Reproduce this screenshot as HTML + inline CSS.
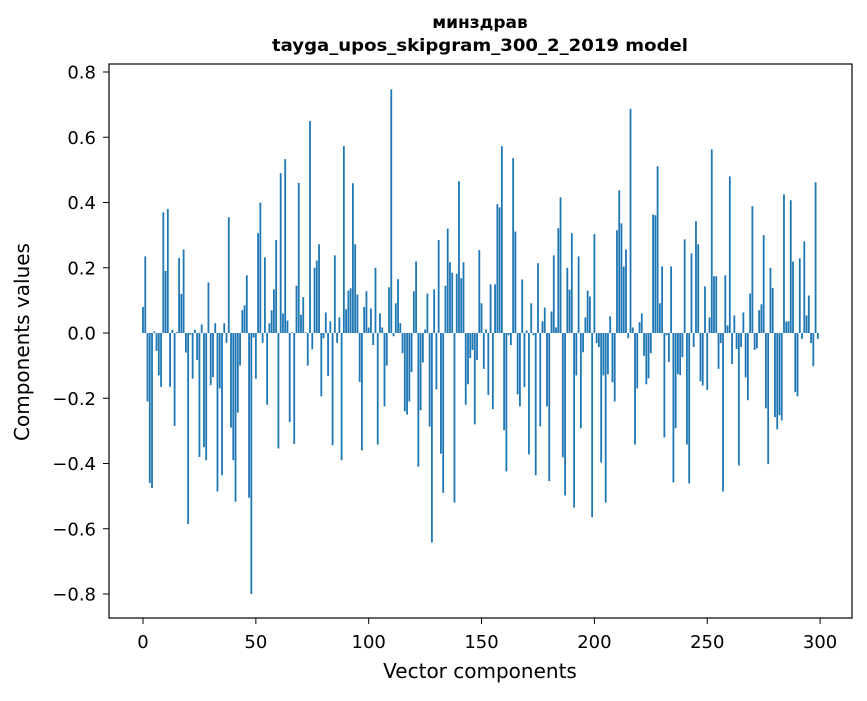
<!DOCTYPE html>
<html><head><meta charset="utf-8"><style>
body{margin:0;background:#fff}
svg text{font-family:"DejaVu Sans","Liberation Sans",sans-serif;fill:#000}
</style></head><body>
<svg id="chart" width="867" height="696" xmlns="http://www.w3.org/2000/svg">
<rect width="867" height="696" fill="#fff"/>
<text x="480" y="28" text-anchor="middle" font-size="17" font-weight="bold">минздрав</text>
<text x="480" y="51" text-anchor="middle" font-size="17" font-weight="bold" textLength="416" lengthAdjust="spacingAndGlyphs">tayga_upos_skipgram_300_2_2019 model</text>
<g id="bars"></g>
<g id="xticks"></g>
<g id="yticks"></g>
<rect x="109" y="64" width="743" height="554" fill="none" stroke="#000" stroke-width="1.2"/>
<text x="480" y="678" text-anchor="middle" font-size="20">Vector components</text>
<text x="0" y="0" transform="translate(29,342) rotate(-90)" text-anchor="middle" font-size="20">Components values</text>
</svg>
<script>
const values = [
0.08,0.235,-0.21,-0.46,-0.475,0.005,-0.055,-0.13,-0.165,0.37,
0.19,0.38,-0.165,0.01,-0.285,0.003,0.23,0.12,0.256,-0.06,
-0.585,-0.005,-0.14,0.01,-0.083,-0.38,0.026,-0.35,-0.39,0.155,
-0.16,-0.135,0.03,-0.486,-0.17,-0.436,0.03,-0.03,0.355,-0.29,
-0.39,-0.517,-0.244,-0.1,0.07,0.085,0.177,-0.505,-0.8,-0.014,
-0.14,0.306,0.4,-0.03,0.232,-0.22,0.03,0.07,0.134,0.285,
-0.354,0.49,0.06,0.533,0.038,-0.273,0.002,-0.34,0.145,0.46,
0.056,0.11,0.002,-0.1,0.65,-0.05,0.2,0.222,0.272,-0.194,
-0.016,0.063,-0.132,0.036,-0.344,0.238,-0.03,0.048,-0.39,0.573,
0.073,0.13,0.137,0.459,0.272,0.118,-0.15,-0.36,0.08,0.128,
0.017,0.075,-0.037,0.2,-0.342,0.06,0.017,-0.225,-0.1,0.14,
0.747,-0.01,0.091,0.165,0.03,-0.062,-0.24,-0.25,-0.21,-0.12,
0.128,0.219,-0.41,-0.237,-0.09,0.011,0.121,-0.287,-0.642,0.134,
-0.173,0.285,-0.37,-0.49,0.145,0.32,0.217,0.185,-0.52,0.182,
0.465,0.168,0.217,-0.22,-0.157,-0.077,-0.052,-0.28,-0.083,0.254,
0.091,-0.11,0.011,-0.19,0.149,-0.233,0.149,0.395,0.385,0.573,
-0.298,-0.424,-0.007,-0.037,0.536,0.311,-0.188,-0.225,0.164,-0.166,
0.008,-0.372,0.091,-0.007,-0.436,0.214,-0.286,0.036,0.078,-0.225,
-0.454,0.066,0.238,0.017,0.321,0.416,-0.381,-0.498,0.2,0.133,
0.306,-0.535,-0.13,0.235,-0.292,-0.059,0.048,0.13,0.112,-0.565,
0.303,-0.031,-0.043,-0.397,-0.13,-0.52,-0.126,0.051,-0.151,-0.21,
0.315,0.437,0.336,0.204,0.256,-0.016,0.687,0.017,-0.342,-0.17,
0.033,0.06,-0.07,-0.157,-0.139,-0.062,0.363,0.361,0.511,0.091,
0.204,-0.32,-0.007,-0.089,0.204,-0.458,-0.292,-0.126,-0.129,-0.074,
0.287,-0.342,-0.461,0.244,-0.043,0.343,0.272,-0.148,-0.161,0.143,
-0.175,0.048,0.563,0.174,0.174,-0.11,-0.031,-0.486,0.177,0.023,
0.48,-0.095,0.054,-0.049,-0.406,-0.043,0.063,-0.136,-0.206,0.121,
0.389,-0.052,-0.047,0.07,0.088,0.3,-0.231,-0.402,0.2,0.138,
-0.258,-0.295,-0.252,-0.268,0.425,0.035,0.036,0.407,0.219,-0.181,
-0.194,0.229,-0.018,0.281,0.054,0.115,-0.031,-0.102,0.462,-0.018
];
const xTicks = [0,50,100,150,200,250,300];
const yTicks = [-0.8,-0.6,-0.4,-0.2,0.0,0.2,0.4,0.6,0.8];

const NS = "http://www.w3.org/2000/svg";
const x = v => 143 + v * 2.257;
const y = v => 333 - v * 326.25;
const bw = 0.8 * 2.257;

const gb = document.getElementById('bars');
values.forEach((v, i) => {
  const r = document.createElementNS(NS, 'rect');
  r.setAttribute('x', x(i) - bw / 2);
  r.setAttribute('y', Math.min(y(v), y(0)));
  r.setAttribute('width', bw);
  r.setAttribute('height', Math.abs(y(v) - y(0)));
  r.setAttribute('fill', '#1f77b4');
  
  
  gb.appendChild(r);
});

const gx = document.getElementById('xticks');
xTicks.forEach(t => {
  const l = document.createElementNS(NS, 'line');
  l.setAttribute('x1', x(t)); l.setAttribute('x2', x(t));
  l.setAttribute('y1', 618); l.setAttribute('y2', 624);
  l.setAttribute('stroke', '#000');
  
  
  gx.appendChild(l);
  const tx = document.createElementNS(NS, 'text');
  tx.setAttribute('x', x(t)); tx.setAttribute('y', 648);
  tx.setAttribute('text-anchor', 'middle');
  tx.setAttribute('font-size', '18');
  
  
  tx.textContent = String(t);
  gx.appendChild(tx);
});

const gy = document.getElementById('yticks');
yTicks.forEach(t => {
  const l = document.createElementNS(NS, 'line');
  l.setAttribute('x1', 103); l.setAttribute('x2', 109);
  l.setAttribute('y1', y(t)); l.setAttribute('y2', y(t));
  l.setAttribute('stroke', '#000');
  
  
  gy.appendChild(l);
  const tx = document.createElementNS(NS, 'text');
  tx.setAttribute('x', 96); tx.setAttribute('y', y(t) + 6.5);
  tx.setAttribute('text-anchor', 'end');
  tx.setAttribute('font-size', '18');
  
  
  tx.textContent = (t < 0 ? '\u2212' : '') + Math.abs(t).toFixed(1);
  gy.appendChild(tx);
});
</script>
</body></html>
